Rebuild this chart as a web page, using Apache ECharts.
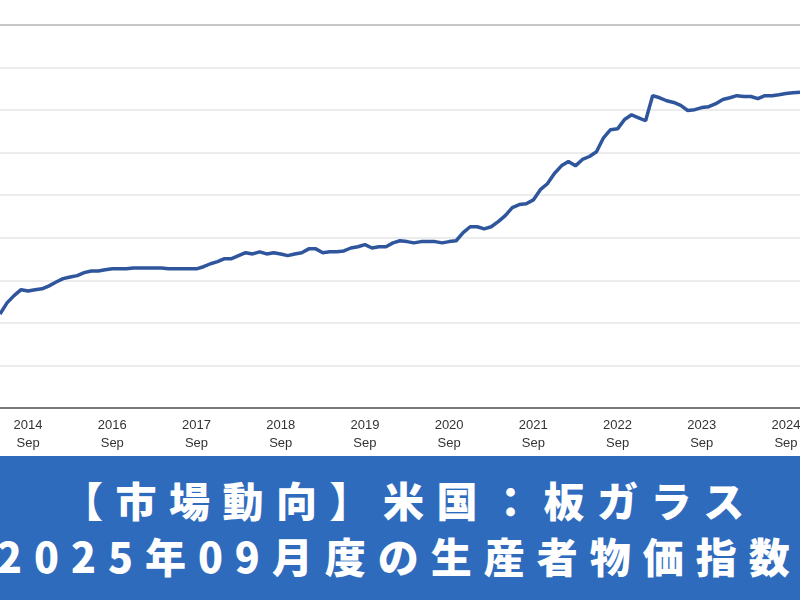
<!DOCTYPE html>
<html>
<head>
<meta charset="utf-8">
<script src="https://cdn.jsdelivr.net/npm/echarts@6/dist/echarts.min.js"></script>
<style>
  body { margin:0; width:800px; height:600px; overflow:hidden; background:#fff; }
  #chart { position:absolute; left:0; top:0; width:800px; height:456px; }
  #banner { position:absolute; left:0; top:456px; width:800px; height:144px; background:#2f6bbd; overflow:hidden;
            font-family:"Noto Sans CJK JP", sans-serif; font-weight:900; color:#fff; font-size:41px; white-space:nowrap; }
  #banner div { position:absolute; line-height:48px; }
</style>
</head>
<body>
<div id="chart"></div>
<div id="banner">
  <div id="t1" style="left:62px; top:19px; letter-spacing:12.5px;">【市場動向】米国：板ガラス</div>
  <div id="t2" style="left:-3px; top:75px; letter-spacing:12px;">2025年09月度の生産者物価指数</div>
</div>
<script>
// 月次の指数（読み取り値）
var indexValues = [22.1,24.7,26.4,27.8,27.5,27.8,28.0,28.7,29.6,30.4,30.8,31.1,31.8,32.2,32.2,32.5,
  32.7,32.7,32.7,32.9,32.9,32.9,32.9,32.9,32.7,32.7,32.7,32.7,32.7,33.2,33.9,34.4,35.1,35.1,35.8,36.5,
  36.2,36.7,36.2,36.5,36.2,35.8,36.2,36.5,37.4,37.4,36.5,36.7,36.7,36.9,37.6,37.9,38.4,37.6,37.9,37.9,
  38.8,39.3,39.1,38.8,39.1,39.1,39.1,38.8,39.1,39.3,41.2,42.6,42.6,42.1,42.6,43.8,45.2,47.1,47.8,48.0,
  48.9,51.3,52.7,55.1,56.9,57.9,56.9,58.4,59.1,60.2,63.5,65.4,65.6,67.8,68.9,68.2,67.5,73.4,72.9,72.2,
  71.8,71.1,69.9,70.1,70.6,70.8,71.5,72.5,72.9,73.4,73.2,73.2,72.7,73.4,73.4,73.6,73.9,74.1,74.2];
var tickYears = ['2014','2016','2017','2018','2019','2020','2021','2022','2023','2024'];
var firstSep = 4;

var months = indexValues.map(function(v, i) { return i; });

var chart = echarts.init(document.getElementById('chart'));
chart.setOption({
  animation: false,
  grid: { left: 0, right: 0, top: 25, bottom: 48, outerBoundsMode: 'none', containLabel: false },
  xAxis: {
    type: 'category',
    data: months,
    boundaryGap: false,
    axisLine: { lineStyle: { color: '#555', width: 1.5 } },
    axisTick: { show: false },
    axisLabel: {
      interval: function(i) { return i >= firstSep && (i - firstSep) % 12 === 0; },
      formatter: function(v, i) {
        var k = (i - firstSep) / 12;
        return tickYears[k] + '\nSep';
      },
      color: '#333', fontSize: 13, fontFamily: 'Liberation Sans, Arial', lineHeight: 18, margin: 8
    }
  },
  yAxis: {
    type: 'value', min: 0, max: 90, interval: 10,
    axisLabel: { show: false }, axisLine: { show: false }, axisTick: { show: false },
    splitLine: { lineStyle: { color: '#e6e6e6', width: 1.5 } }
  },
  graphic: [{ type: 'line', shape: { x1: 0, y1: 25, x2: 800, y2: 25 }, style: { stroke: '#707070', lineWidth: 2 } }],
  series: [{
    type: 'line', data: indexValues, symbol: 'none',
    lineStyle: { color: '#2f569c', width: 3.5 }
  }]
});
</script>
</body>
</html>
